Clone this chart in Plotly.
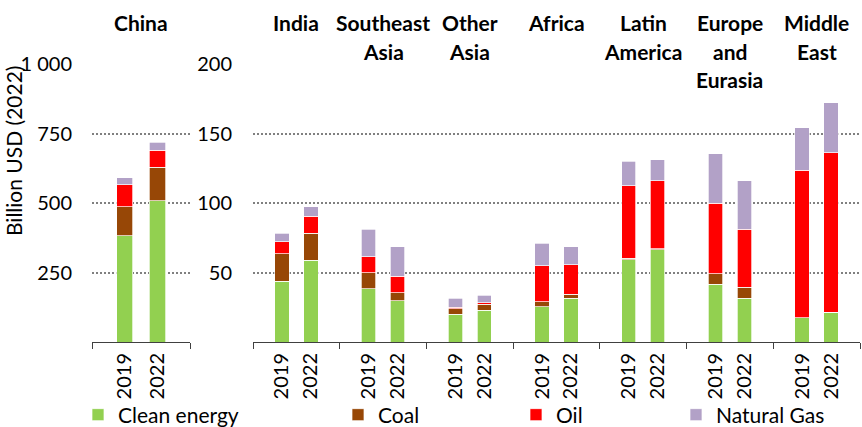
import plotly.graph_objects as go

# ---------------- data ----------------
years = ["2019", "2022"]

china_clean = [382, 509]
china_coal = [105, 120]
china_oil = [79, 60]
china_gas = [25, 29]

regions = ["India", "Southeast<br>Asia", "Other<br>Asia", "Africa",
           "Latin<br>America", "Europe<br>and<br>Eurasia", "Middle<br>East"]
clean_2019 = [43.6, 38.3, 20.0, 25.5, 59.3, 41.4, 17.6]
clean_2022 = [58.8, 29.6, 22.9, 31.5, 66.5, 31.3, 21.4]
coal_2019 = [20.0, 11.6, 3.9, 3.4, 0.9, 7.8, 0.0]
coal_2022 = [19.3, 5.8, 4.1, 2.7, 0.5, 8.0, 0.0]
oil_2019 = [8.7, 11.6, 1.1, 25.8, 52.1, 50.8, 106.0]
oil_2022 = [12.5, 11.8, 1.4, 21.5, 48.9, 41.9, 114.8]
gas_2019 = [6.0, 19.7, 6.3, 16.4, 17.9, 35.4, 30.6]
gas_2022 = [6.7, 21.5, 5.1, 12.7, 15.2, 34.9, 36.1]

series_names = ["Clean energy", "Coal", "Oil", "Natural Gas"]
colors = ["#92D050", "#974706", "#FF0000", "#B2A1C7"]

left_ticks = [250, 500, 750, 1000]
left_ticktext = ["250", "500", "750", "1 000"]
right_ticks = [50, 100, 150, 200]

# ---------------- layout helpers ----------------
W, H = 862, 427
FONT = "Lato"
FS = 21      # titles / legend
TFS = 20     # tick labels

def py(px):
    return 1 - px / H

fig = go.Figure()

china_series = [china_clean, china_coal, china_oil, china_gas]
reg_series = [(clean_2019, clean_2022), (coal_2019, coal_2022),
              (oil_2019, oil_2022), (gas_2019, gas_2022)]

china_x = [1, 2]
reg_x = []
for i in range(len(regions)):
    reg_x += [3 * i + 1, 3 * i + 2]

legend_ids = ["legend", "legend2", "legend3", "legend4"]

for k, name in enumerate(series_names):
    fig.add_trace(go.Bar(
        x=china_x, y=china_series[k], name=name, width=0.5,
        marker=dict(color=colors[k], line=dict(color="white", width=0.7)),
        xaxis="x", yaxis="y", legend=legend_ids[k], showlegend=True,
        hoverinfo="y+name"))
    vals = []
    for a, b in zip(*reg_series[k]):
        vals += [a, b]
    fig.add_trace(go.Bar(
        x=reg_x, y=vals, name=name, width=0.5,
        marker=dict(color=colors[k], line=dict(color="white", width=0.7)),
        xaxis="x2", yaxis="y2", showlegend=False, hoverinfo="y+name"))

ydom = [py(342), py(64)]
axis_line_color = "#404040"
grid_color = "#808080"
tickfont = dict(family=FONT, size=TFS, color="black")

fig.update_layout(
    width=W, height=H,
    margin=dict(l=0, r=0, t=0, b=0, pad=0, autoexpand=False),
    paper_bgcolor="white", plot_bgcolor="white",
    barmode="stack",
    font=dict(family=FONT, size=FS, color="black"),
    xaxis=dict(domain=[92 / W, 190 / W], range=[0, 3], anchor="y", automargin=False,
               tickmode="array", tickvals=china_x, ticktext=years, tickfont=tickfont,
               tickangle=-90, ticks="", showline=True, linecolor=axis_line_color,
               linewidth=1, showgrid=False, zeroline=False, ticklabelstandoff=2,
               minor=dict(tickmode="array", tickvals=[0, 3], ticks="outside",
                          ticklen=6, tickcolor=axis_line_color, tickwidth=1,
                          showgrid=False)),
    xaxis2=dict(domain=[253 / W, 860 / W], range=[0, 3 * len(regions)], anchor="y2",
                automargin=False,
                tickmode="array", tickvals=reg_x, ticktext=years * len(regions),
                tickfont=tickfont,
                tickangle=-90, ticks="", showline=True, linecolor=axis_line_color,
                linewidth=1, showgrid=False, zeroline=False, ticklabelstandoff=2,
                minor=dict(tickmode="array",
                           tickvals=[3 * i for i in range(len(regions) + 1)],
                           ticks="outside", ticklen=6, tickcolor=axis_line_color,
                           tickwidth=1, showgrid=False)),
    yaxis=dict(domain=ydom, range=[0, 1000], anchor="x", automargin=False,
               tickmode="array", tickvals=left_ticks, ticktext=left_ticktext,
               tickfont=tickfont,
               showgrid=True, gridcolor=grid_color, gridwidth=2, griddash="2px,2px",
               zeroline=False, showline=False, ticks="", ticklabelstandoff=19),
    yaxis2=dict(domain=ydom, range=[0, 200], anchor="x2", automargin=False,
                tickmode="array", tickvals=right_ticks, tickfont=tickfont,
                showgrid=True, gridcolor=grid_color, gridwidth=2, griddash="2px,2px",
                zeroline=False, showline=False, ticks="", ticklabelstandoff=20),
)

# legends (four independent legends to mimic spacing)
legend_left = [94, 354, 532, 692]
for lid, xl in zip(legend_ids, legend_left):
    fig.update_layout({lid: dict(x=(xl - 16) / W, y=py(415), xanchor="left",
                                 yanchor="middle", orientation="h",
                                 bgcolor="rgba(0,0,0,0)",
                                 font=dict(family=FONT, size=FS, color="black"))})

# panel titles
annotations = []
def add_title(text, xref, xval):
    for j, line in enumerate(text.split("<br>")):
        annotations.append(dict(text="<b>" + line + "</b>", xref=xref, x=xval,
                                yref="paper", y=py(23 + 28 * j), showarrow=False,
                                xanchor="center", yanchor="middle",
                                font=dict(family=FONT, size=FS, color="black")))

add_title("China", "x", 1.5)
for i, r in enumerate(regions):
    add_title(r, "x2", 3 * i + 1.5)

annotations.append(dict(text="Billion USD (2022)", xref="paper", x=14 / W,
                        yref="paper", y=py(151), textangle=-90, showarrow=False,
                        xanchor="center", yanchor="middle",
                        font=dict(family=FONT, size=FS, color="black")))
fig.update_layout(annotations=annotations)

fig.write_html("out.html", config={"displayModeBar": False},
               post_script="document.body.style.margin='0';document.body.style.overflow='hidden';")
